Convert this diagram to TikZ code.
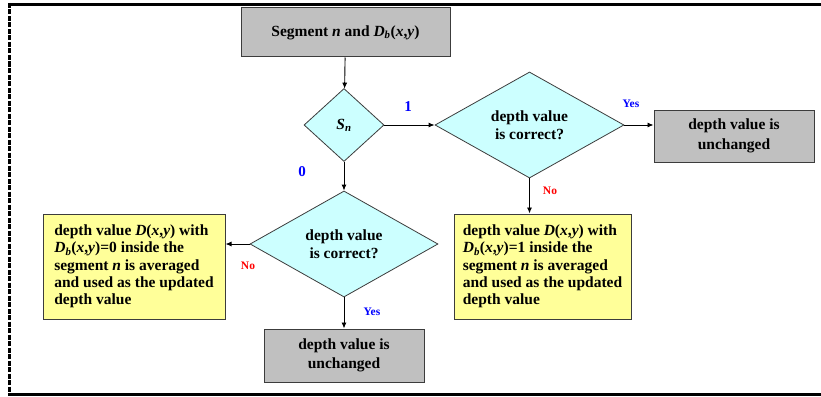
\documentclass[tikz,border=0pt]{standalone}
\usepackage{fontspec}
\setmainfont{Liberation Serif}
\usetikzlibrary{arrows.meta,shapes.geometric}

\definecolor{boxgray}{RGB}{192,192,192}
\definecolor{diacyan}{RGB}{204,255,255}
\definecolor{noteyellow}{RGB}{255,255,153}
\definecolor{edgegray}{RGB}{60,60,60}
\newcommand{\itm}[1]{\textit{#1}}

\begin{document}
\begin{tikzpicture}[>={Latex[length=6pt,width=5pt]},x=1pt,y=-1pt,
  graybox/.style={draw=edgegray,line width=1pt,fill=boxgray,align=center,inner sep=0pt,
    font=\fontsize{15.5}{19.5}\selectfont\bfseries},
  decide/.style={diamond,draw=edgegray,line width=0.8pt,fill=diacyan,align=center,inner sep=0pt,
    font=\fontsize{15.5}{18}\selectfont\bfseries},
  notebox/.style={draw=edgegray,line width=1pt,fill=noteyellow,align=left,inner sep=0pt,
    minimum height=105pt,font=\fontsize{15.5}{17.3}\selectfont\bfseries},
  branch/.style={font=\fontsize{11.5}{12}\selectfont\bfseries},
  bit/.style={blue,font=\fontsize{15}{16}\selectfont\bfseries},
  flow/.style={->,line width=0.9pt,black}]
  \useasboundingbox (0,0) rectangle (821,396);
  % frame
  \draw[line width=3pt] (8,4.5) -- (821,4.5);
  \draw[line width=3pt] (8,394.5) -- (821,394.5);
  \draw[line width=2.5pt,dash pattern=on 5pt off 1.5pt] (9.5,3) -- (9.5,396);
  % blocks
  \node[graybox,minimum width=209pt,minimum height=49pt] (seg) at (345.5,32.5)
    {Segment \itm{n} and \itm{D}\textsubscript{\itm{b}}(\itm{x},\itm{y})};
  \node[decide,minimum width=80pt,minimum height=73pt] (sn) at (344,125)
    {\itm{S}\textsubscript{\itm{n}}};
  \node[decide,minimum width=189pt,minimum height=105pt] (dv1) at (529.5,125)
    {depth value\\is correct?};
  \node[graybox,minimum width=160pt,minimum height=52pt] (unch1) at (734,136)
    {depth value is\\unchanged};
  \node[notebox,minimum width=177pt] (note1) at (542.5,266.5)
    {depth value \itm{D}(\itm{x},\itm{y}) with\\\itm{D}\textsubscript{\itm{b}}(\itm{x},\itm{y})=1 inside the\\segment \itm{n} is averaged\\and used as the updated\\depth value};
  \node[decide,minimum width=188pt,minimum height=104pt] (dv0) at (344,244)
    {depth value\\is correct?};
  \node[notebox,minimum width=182pt] (note0) at (134,266.5)
    {depth value \itm{D}(\itm{x},\itm{y}) with\\\itm{D}\textsubscript{\itm{b}}(\itm{x},\itm{y})=0 inside the\\segment \itm{n} is averaged\\and used as the updated\\depth value};
  \node[graybox,minimum width=160pt,minimum height=53pt] (unch0) at (344,355.5)
    {depth value is\\unchanged};
  % connectors
  \draw[flow] (seg) -- (sn);
  \draw[flow] (sn) -- (dv1);
  \draw[flow] (dv1) -- (dv1.east -| unch1.west);
  \draw[flow] (dv1) -- (dv1.south |- note1.north);
  \draw[flow] (sn) -- (dv0);
  \draw[flow] (dv0) -- (dv0.west -| note0.east);
  \draw[flow] (dv0) -- (unch0);
  % branch labels
  \node[bit] (one) at (408,107) {1};
  \node[bit] (zero) at (302,172) {0};
  \node[branch,blue] (yes1) at (631,104) {Yes};
  \node[branch,red] (no1) at (550,191) {No};
  \node[branch,red] (no0) at (248,266) {No};
  \node[branch,blue] (yes0) at (372,312) {Yes};
\end{tikzpicture}
\end{document}
